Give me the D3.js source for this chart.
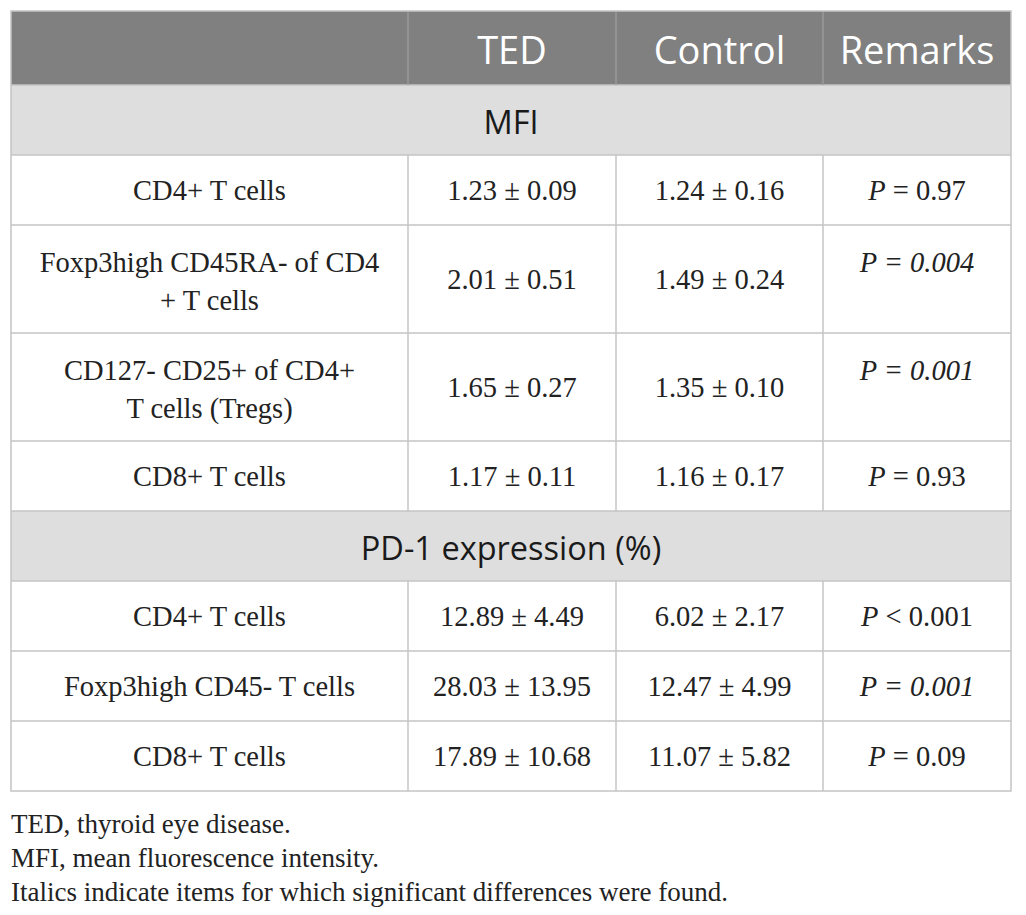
<!DOCTYPE html>
<html>
<head>
<meta charset="utf-8">
<script src="https://cdn.jsdelivr.net/npm/d3@7"></script>
<style>
  body { margin: 0; background: #fff; }
</style>
</head>
<body>
<svg id="table" width="1026" height="915"></svg>
<script>
// column headers
const columns = ['', 'TED', 'Control', 'Remarks'];

// sections and rows
const sections = ['MFI', 'PD-1 expression (%)'];
const sectionOf = [0, 0, 0, 0, 1, 1, 1];
const labels = [
    ['CD4+ T cells'],
    ['Foxp3high CD45RA- of CD4', '+ T cells'],
    ['CD127- CD25+ of CD4+', 'T cells (Tregs)'],
    ['CD8+ T cells'],
    ['CD4+ T cells'],
    ['Foxp3high CD45- T cells'],
    ['CD8+ T cells'],
];
const tedValues = ['1.23 ± 0.09', '2.01 ± 0.51', '1.65 ± 0.27', '1.17 ± 0.11', '12.89 ± 4.49', '28.03 ± 13.95', '17.89 ± 10.68'];
const controlValues = ['1.24 ± 0.16', '1.49 ± 0.24', '1.35 ± 0.10', '1.16 ± 0.17', '6.02 ± 2.17', '12.47 ± 4.99', '11.07 ± 5.82'];
const pValues = ['= 0.97', '= 0.004', '= 0.001', '= 0.93', '< 0.001', '= 0.001', '= 0.09'];
const significant = [false, true, true, false, false, true, false];

const footnotes = [
    'TED, thyroid eye disease.',
    'MFI, mean fluorescence intensity.',
    'Italics indicate items for which significant differences were found.',
];

const svg = d3.select('#table');

const tblLeft = 11, tblTop = 11, tblRight = 1011;
const colWidths = [397, 208, 207, 188];
const colX = [tblLeft, ...d3.cumsum(colWidths, w => w).map(v => v + tblLeft)]; // edges
const headerH = 74, sectionH = 70, lineH = 38, rowPad = 16;

const gridColor = '#c4c4c4';
const sansFont = '"Open Sans", "Noto Sans", sans-serif';
const serifFont = '"Liberation Serif", "DejaVu Serif", serif';

// build layout: list of blocks with y positions
const blocks = [];
let y = tblTop;
blocks.push({ type: 'header', y, h: headerH });
y += headerH;
labels.forEach((lab, i) => {
    if (i === 0 || sectionOf[i] !== sectionOf[i - 1]) {
        blocks.push({ type: 'section', y, h: sectionH, text: sections[sectionOf[i]] });
        y += sectionH;
    }
    const h = lab.length === 1 ? 70 : 108;
    blocks.push({ type: 'row', y, h, i });
    y += h;
});
const tblBottom = y;

// header
svg.append('rect')
    .attr('x', tblLeft).attr('y', tblTop)
    .attr('width', tblRight - tblLeft).attr('height', headerH)
    .attr('fill', '#808080');

svg.selectAll('text.head')
    .data(columns)
    .join('text')
    .attr('class', 'head')
    .attr('x', (d, i) => (colX[i] + colX[i + 1]) / 2)
    .attr('y', tblTop + headerH / 2 + 1)
    .attr('text-anchor', 'middle')
    .attr('dominant-baseline', 'central')
    .attr('font-family', sansFont)
    .attr('font-size', 38)
    .attr('fill', '#fff')
    .text(d => d);

// section rows
const secBlocks = blocks.filter(b => b.type === 'section');
svg.selectAll('rect.section')
    .data(secBlocks)
    .join('rect')
    .attr('class', 'section')
    .attr('x', tblLeft).attr('y', d => d.y)
    .attr('width', tblRight - tblLeft).attr('height', d => d.h)
    .attr('fill', '#dedede');

svg.selectAll('text.section')
    .data(secBlocks)
    .join('text')
    .attr('class', 'section')
    .attr('x', (tblLeft + tblRight) / 2)
    .attr('y', d => d.y + d.h / 2 + 1)
    .attr('text-anchor', 'middle')
    .attr('dominant-baseline', 'central')
    .attr('font-family', sansFont)
    .attr('font-size', 32.5)
    .attr('fill', '#1a1a1a')
    .text(d => d.text);

// body rows
const rowBlocks = blocks.filter(b => b.type === 'row');
const rows = svg.selectAll('g.row')
    .data(rowBlocks)
    .join('g')
    .attr('class', 'row')
    .attr('transform', d => `translate(0,${d.y})`)
    .attr('font-family', serifFont)
    .attr('font-size', 28.5)
    .attr('fill', '#222');

rows.append('text')
    .attr('x', (colX[0] + colX[1]) / 2)
    .attr('text-anchor', 'middle')
    .attr('dominant-baseline', 'central')
    .selectAll('tspan')
    .data(d => labels[d.i].map((t, k) => ({ t, k, n: labels[d.i].length, h: d.h })))
    .join('tspan')
    .attr('x', (colX[0] + colX[1]) / 2)
    .attr('y', d => d.n === 1 ? d.h / 2 : rowPad + 21 + d.k * lineH)
    .text(d => d.t);

rows.append('text')
    .attr('x', (colX[1] + colX[2]) / 2)
    .attr('y', d => d.h / 2)
    .attr('text-anchor', 'middle')
    .attr('dominant-baseline', 'central')
    .text(d => tedValues[d.i]);

rows.append('text')
    .attr('x', (colX[2] + colX[3]) / 2)
    .attr('y', d => d.h / 2)
    .attr('text-anchor', 'middle')
    .attr('dominant-baseline', 'central')
    .text(d => controlValues[d.i]);

const rem = rows.append('text')
    .attr('x', (colX[3] + colX[4]) / 2)
    .attr('y', d => labels[d.i].length === 1 ? d.h / 2 : rowPad + 21)
    .attr('text-anchor', 'middle')
    .attr('dominant-baseline', 'central');
rem.append('tspan')
    .attr('font-style', 'italic')
    .text('P');
rem.append('tspan')
    .attr('font-style', d => significant[d.i] ? 'italic' : 'normal')
    .text(d => ' ' + pValues[d.i]);

// grid lines
const hLines = blocks.slice(1).map(b => b.y);
svg.selectAll('line.h')
    .data(hLines)
    .join('line')
    .attr('class', 'h')
    .attr('x1', tblLeft).attr('x2', tblRight)
    .attr('y1', d => d).attr('y2', d => d)
    .attr('stroke', gridColor)
    .attr('stroke-width', 1.5);

// vertical separators, drawn per body row (not through sections)
const vSegs = [];
rowBlocks.forEach(b => [1, 2, 3].forEach(c => vSegs.push({ x: colX[c], y1: b.y, y2: b.y + b.h })));
svg.selectAll('line.v')
    .data(vSegs)
    .join('line')
    .attr('class', 'v')
    .attr('x1', d => d.x).attr('x2', d => d.x)
    .attr('y1', d => d.y1).attr('y2', d => d.y2)
    .attr('stroke', gridColor)
    .attr('stroke-width', 1.5);

// header separators (slightly lighter than header bg)
svg.selectAll('line.hv')
    .data([1, 2, 3])
    .join('line')
    .attr('class', 'hv')
    .attr('x1', c => colX[c]).attr('x2', c => colX[c])
    .attr('y1', tblTop).attr('y2', tblTop + headerH)
    .attr('stroke', '#9a9a9a')
    .attr('stroke-width', 1.5);

// outer border
svg.append('rect')
    .attr('x', tblLeft).attr('y', tblTop)
    .attr('width', tblRight - tblLeft).attr('height', tblBottom - tblTop)
    .attr('fill', 'none')
    .attr('stroke', gridColor)
    .attr('stroke-width', 1.5);

// footnotes
svg.selectAll('text.note')
    .data(footnotes)
    .join('text')
    .attr('class', 'note')
    .attr('x', tblLeft)
    .attr('y', (d, i) => tblBottom + 33 + i * 34)
    .attr('dominant-baseline', 'central')
    .attr('font-family', serifFont)
    .attr('font-size', 27)
    .attr('fill', '#222')
    .text(d => d);
</script>
</body>
</html>
